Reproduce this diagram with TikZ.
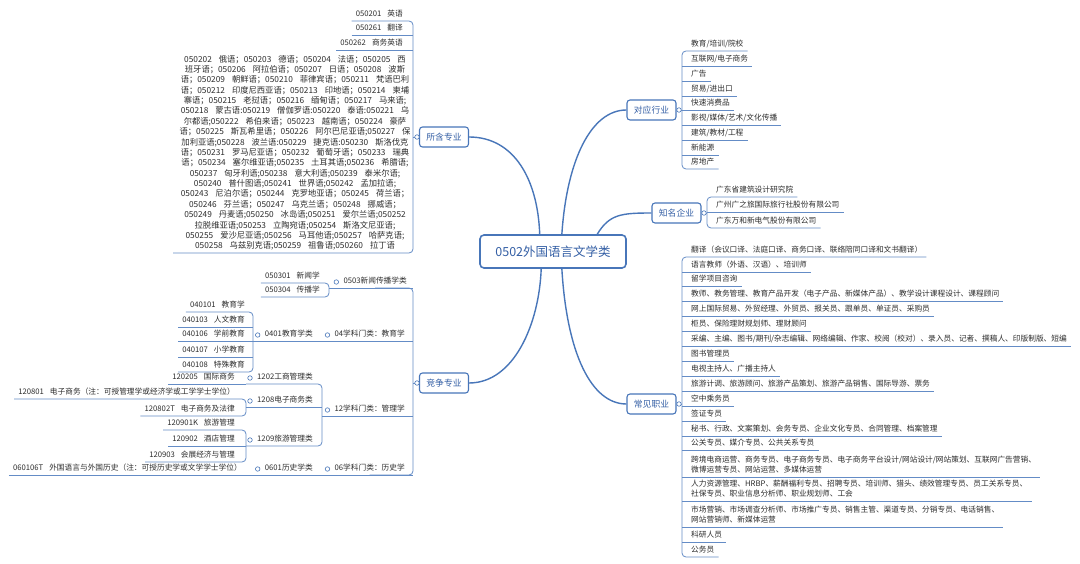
\documentclass[tikz,border=0pt]{standalone}
\usepackage{fontspec}
\setmainfont{Noto Sans CJK SC}
\usetikzlibrary{calc}
\definecolor{lb}{RGB}{72,118,185}
\definecolor{ulc}{RGB}{100,140,198}
\definecolor{nb}{RGB}{52,95,165}
\definecolor{tx}{RGB}{45,45,45}
\newcommand{\gp}{\hspace{6pt}}
\newcommand{\gq}{\hspace{7pt}}
\begin{document}
\begin{tikzpicture}[x=1pt,y=-1pt,
  ln/.style={draw=ulc, line width=0.8pt},
  br/.style={draw=ulc, line width=0.8pt, rounded corners=4pt},
  cv/.style={draw=lb, line width=1.4pt},
  mainbox/.style={draw=lb, line width=1.6pt, rounded corners=4pt, fill=white, text=nb, font=\fontsize{12.5}{15}\selectfont, minimum width=146pt, minimum height=33pt, inner sep=0pt},
  topic/.style={draw=lb, line width=1.1pt, rounded corners=3pt, fill=white, text=nb, font=\fontsize{8.8}{11}\selectfont, minimum width=49pt, minimum height=20pt, inner sep=0pt},
  it/.style={inner xsep=4pt, inner ysep=2pt, text height=7pt, text depth=2pt, text=tx, font=\fontsize{7.7}{10.5}\selectfont},
  ri/.style={it, anchor=south west},
  li/.style={it, anchor=south east},
  knob/.style={circle, draw=lb, fill=white, line width=0.6pt, inner sep=0pt, minimum size=4.5pt},
]
\useasboundingbox (0,0) rectangle (1080,564);
\fill[white] (0,0) rectangle (1080,564);

% ---------- main and topic nodes ----------
\node[mainbox] (c) at (553,251.5) {0502外国语言文学类};
\node[topic] (szy) at (444,137) {所含专业};
\node[topic] (jzy) at (444,383) {竞争专业};
\node[topic] (dyhy) at (651.5,110) {对应行业};
\node[topic] (zmqy) at (676.5,213) {知名企业};
\node[topic] (cjzy) at (651.5,404) {常见职业};

\draw[cv] ($(c.north west)!0.41!(c.north east)$) .. controls +(-2,-55) and +(45,0) .. (szy.east);
\draw[cv] ($(c.south west)!0.42!(c.south east)$) .. controls +(-2,55) and +(45,0) .. (jzy.east);
\draw[cv] ($(c.north west)!0.56!(c.north east)$) .. controls +(5,-75) and +(-35,0) .. (dyhy.west);
\draw[cv] ($(c.north west)!0.80!(c.north east)$) .. controls +(12,-20) and +(-30,0) .. (zmqy.west);
\draw[cv] ($(c.south west)!0.56!(c.south east)$) .. controls +(5,85) and +(-35,0) .. (cjzy.west);

% ---------- 对应行业 ----------
\coordinate (b1) at (682,110);
\node[ri] (d1) at (687,51) {教育/培训/院校};
\node[ri] (d2) at (687,66) {互联网/电子商务};
\node[ri] (d3) at (687,81) {广告};
\node[ri] (d4) at (687,96) {贸易/进出口};
\node[ri] (d5) at (687,110) {快速消费品};
\node[ri] (d6) at (687,125) {影视/媒体/艺术/文化传播};
\node[ri] (d7) at (687,140) {建筑/教材/工程};
\node[ri] (d8) at (687,155) {新能源};
\node[ri] (d9) at (687,169) {房地产};
\draw[br] (d1.south east) -- (d1.south east -| b1) -- (d9.south east -| b1) -- (d9.south east);
\foreach \i in {2,...,8} \draw[ln] (d\i.south east -| b1) -- (d\i.south east);
\draw[ln] (dyhy.east) -- (b1);

% ---------- 知名企业 ----------
\coordinate (b2) at (707,213);
\node[ri] (z1) at (712,197) {广东省建筑设计研究院};
\node[ri] (z2) at (712,212) {广州广之旅国际旅行社股份有限公司};
\node[ri] (z3) at (712,228) {广东万和新电气股份有限公司};
\draw[br] (z1.south east) -- (z1.south east -| b2) -- (z3.south east -| b2) -- (z3.south east);
\draw[ln] (z2.south east -| b2) -- (z2.south east);
\draw[ln] (zmqy.east) -- (b2);

% ---------- 常见职业 ----------
\coordinate (b3) at (682,404);
\node[ri] (o1) at (687,257) {翻译（会议口译、法庭口译、商务口译、联络陪同口译和文书翻译）};
\node[ri] (o2) at (687,272) {语言教师（外语、汉语）、培训师};
\node[ri] (o3) at (687,286) {留学项目咨询};
\node[ri] (o4) at (687,301) {教师、教务管理、教育产品开发（电子产品、新媒体产品）、教学设计课程设计、课程顾问};
\node[ri] (o5) at (687,316) {网上国际贸易、外贸经理、外贸员、报关员、跟单员、单证员、采购员};
\node[ri] (o6) at (687,331) {柜员、保险理财规划师、理财顾问};
\node[ri] (o7) at (687,346) {采编、主编、图书/期刊/杂志编辑、网络编辑、作家、校阅（校对）、录入员、记者、撰稿人、印版制版、短编};
\node[ri] (o8) at (687,361) {图书管理员};
\node[ri] (o9) at (687,376) {电视主持人、广播主持人};
\node[ri] (o10) at (687,391) {旅游计调、旅游顾问、旅游产品策划、旅游产品销售、国际导游、票务};
\node[ri] (o11) at (687,406) {空中乘务员};
\node[ri] (o12) at (687,421) {签证专员};
\node[ri] (o13) at (687,436) {秘书、行政、文案策划、会务专员、企业文化专员、合同管理、档案管理};
\node[ri] (o14) at (687,450) {公关专员、媒介专员、公共关系专员};
\node[ri] (o15) at (687,477) {\begin{tabular}[b]{@{}l@{}}跨境电商运营、商务专员、电子商务专员、电子商务平台设计/网站设计/网站策划、互联网广告营销、\\微博运营专员、网站运营、多媒体运营\end{tabular}};
\node[ri] (o16) at (687,501) {\begin{tabular}[b]{@{}l@{}}人力资源管理、HRBP、薪酬福利专员、招聘专员、培训师、猎头、绩效管理专员、员工关系专员、\\社保专员、职业信息分析师、职业规划师、工会\end{tabular}};
\node[ri] (o17) at (687,527) {\begin{tabular}[b]{@{}l@{}}市场营销、市场调查分析师、市场推广专员、销售主管、渠道专员、分销专员、电话销售、\\网站营销师、新媒体运营\end{tabular}};
\node[ri] (o18) at (687,542) {科研人员};
\node[ri] (o19) at (687,557) {公务员};
\draw[br] (o1.south east) -- (o1.south east -| b3) -- (o19.south east -| b3) -- (o19.south east);
\foreach \i in {2,...,18} \draw[ln] (o\i.south east -| b3) -- (o\i.south east);
\draw[ln] (cjzy.east) -- (b3);

% ---------- 所含专业 ----------
\coordinate (b4) at (413,137);
\coordinate (bl) at (173,253);
\node[li] (s1) at (407,21) {050201\gp{}英语};
\node[li] (s2) at (407,35) {050261\gp{}翻译};
\node[li] (s3) at (407,50) {050262\gp{}商务英语};
\node[it, anchor=south, font=\fontsize{8.3}{10.37}\selectfont] (s4) at (295,253) {\begin{tabular}[b]{@{}c@{}}
050202\gq{}俄语；050203\gq{}德语；050204\gq{}法语；050205\gq{}西\\
班牙语；050206\gq{}阿拉伯语；050207\gq{}日语；050208\gq{}波斯\\
语；050209\gq{}朝鲜语；050210\gq{}菲律宾语；050211\gq{}梵语巴利\\
语；050212\gq{}印度尼西亚语；050213\gq{}印地语；050214\gq{}柬埔\\
寨语；050215\gq{}老挝语；050216\gq{}缅甸语；050217\gq{}马来语;\\
050218\gq{}蒙古语:050219\gq{}僧伽罗语:050220\gq{}泰语:050221\gq{}乌\\
尔都语;050222\gq{}希伯来语；050223\gq{}越南语；050224\gq{}豪萨\\
语；050225\gq{}斯瓦希里语；050226\gq{}阿尔巴尼亚语;050227\gq{}保\\
加利亚语;050228\gq{}波兰语:050229\gq{}捷克语:050230\gq{}斯洛伐克\\
语；050231\gq{}罗马尼亚语；050232\gq{}葡萄牙语；050233\gq{}瑞典\\
语；050234\gq{}塞尔维亚语;050235\gq{}土耳其语;050236\gq{}希腊语;\\
050237\gq{}匈牙利语;050238\gq{}意大利语;050239\gq{}泰米尔语;\\
050240\gq{}普什图语;050241\gq{}世界语;050242\gq{}孟加拉语;\\
050243\gq{}尼泊尔语；050244\gq{}克罗地亚语；050245\gq{}荷兰语；\\
050246\gq{}芬兰语；050247\gq{}乌克兰语；050248\gq{}挪威语；\\
050249\gq{}丹麦语;050250\gq{}冰岛语;050251\gq{}爱尔兰语;050252\\
拉脱维亚语;050253\gq{}立陶宛语;050254\gq{}斯洛文尼亚语;\\
050255\gq{}爱沙尼亚语;050256\gq{}马耳他语;050257\gq{}哈萨克语;\\
050258\gq{}乌兹别克语;050259\gq{}祖鲁语;050260\gq{}拉丁语
\end{tabular}};
\draw[br] (s1.south west) -- (s1.south west -| b4) -- (bl -| b4) -- (bl);
\draw[ln] (s2.south west) -- (s2.south west -| b4);
\draw[ln] (s3.south west) -- (s3.south west -| b4);
\draw[ln] (szy.west) -- (b4);

% ---------- 竞争专业 ----------
\coordinate (b5) at (413,383);
\node[li] (j1) at (411,288) {0503新闻传播学类};
\node[li] (j2) at (409,341) {04学科门类：教育学};
\node[li] (j3) at (409,416) {12学科门类：管理学};
\node[li] (j4) at (409,475) {06学科门类：历史学};
\draw[ln] (jzy.west) -- (b5);
\draw[br] (j1.south) -- (j1.south -| b5) -- (j4.south -| b5) -- (j4.south);

% 0503
\coordinate (b6) at (329,290);
\node[li] (n1) at (324,283) {050301\gp{}新闻学};
\node[li] (n2) at (324,297) {050304\gp{}传播学};
\draw[br] (n1.south west) -- (n1.south west -| b6) -- (n2.south west -| b6) -- (n2.south west);
\draw[ln] (j1.south -| b6) -- (j1.south -| b5);

% 04 / 0401
\coordinate (b7) at (253,341);
\node[li] (e0) at (317,341) {0401教育学类};
\node[li] (e1) at (249,312) {040101\gp{}教育学};
\node[li] (e2) at (249,327) {040103\gp{}人文教育};
\node[li] (e3) at (249,341) {040106\gp{}学前教育};
\node[li] (e4) at (249,357) {040107\gp{}小学教育};
\node[li] (e5) at (249,372) {040108\gp{}特殊教育};
\draw[br] (e1.south west) -- (e1.south west -| b7) -- (e5.south west -| b7) -- (e5.south west);
\foreach \i in {2,3,4} \draw[ln] (e\i.south west) -- (e\i.south west -| b7);
\draw[ln] (b7 |- j2.south) -- (j2.south -| b5);

% 12
\coordinate (b8) at (322,416);
\coordinate (b9) at (246,416);
\node[li] (m1) at (317,384) {1202工商管理类};
\node[li] (m2) at (317,407) {1208电子商务类};
\node[li] (m3) at (317,446) {1209旅游管理类};
\draw[br] (b9 |- m1.south) -- (b8 |- m1.south) -- (b8 |- m3.south) -- (b9 |- m3.south);
\draw[ln] (b9 |- m2.south) -- (b8 |- m2.south);
\draw[ln] (b8 |- j3.south) -- (j3.south -| b5);
\node[li] (p1) at (239,384) {120205\gp{}国际商务};
\draw[ln] (p1.south west) -- (p1.south west -| b9);
\node[li] (q1) at (239,399) {120801\gp{}电子商务（注：可授管理学或经济学或工学学士学位）};
\node[li] (q2) at (239,416) {120802T\gp{}电子商务及法律};
\draw[br] (q1.south west) -- (q1.south west -| b9) -- (q2.south west -| b9) -- (q2.south west);
\node[li] (r1) at (239,430) {120901K\gp{}旅游管理};
\node[li] (r2) at (239,446) {120902\gp{}酒店管理};
\node[li] (r3) at (239,462) {120903\gp{}会展经济与管理};
\draw[br] (r1.south west) -- (r1.south west -| b9) -- (r3.south west -| b9) -- (r3.south west);
\draw[ln] (r2.south west) -- (r2.south west -| b9);

% 06
\node[li] (h0) at (317,475) {0601历史学类};
\node[li] (h1) at (246,475) {060106T\gp{}外国语言与外国历史（注：可授历史学或文学学士学位）};
\draw[ln] (h1.south west) -- (j4.south -| b5);

% ---------- knobs ----------
\node[knob] at (679,110) {};
\node[knob] at (704,213) {};
\node[knob] at (679,404) {};
\node[knob] at (417,137) {};
\node[knob] at (417,383) {};
\foreach \n in {j1,j2,j3,j4,e0,m1,m2,m3,h0}
  \node[knob] at ($(\n.south west)+(-3,-6)$) {};
\end{tikzpicture}
\end{document}
